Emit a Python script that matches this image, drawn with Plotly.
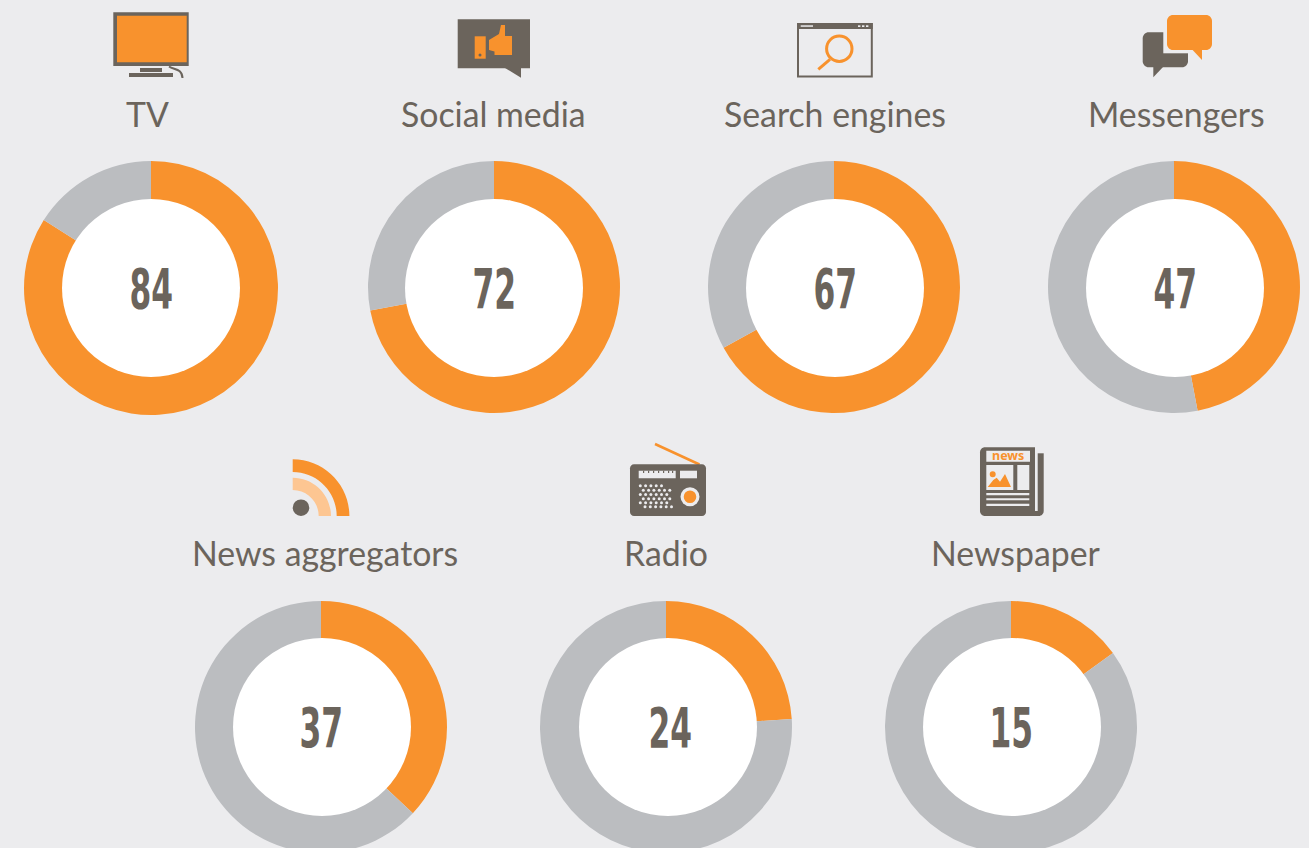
import plotly.graph_objects as go

# ---- data ----
categories = ["TV", "Social media", "Search engines", "Messengers",
              "News aggregators", "Radio", "Newspaper"]
share_values = [84, 72, 67, 47, 37, 24, 15]
rest_values = [16, 28, 33, 53, 63, 76, 85]

# ---- layout (pixels) ----
W, H = 1309, 860
center_x = [151, 494, 834, 1174, 321, 666, 1011]
center_y = [288, 287, 287, 287, 727, 727, 727]
radius = [127, 126, 126, 126, 126, 126, 126]
hole_x = [151, 494, 835, 1175, 322, 668, 1012]
hole_y = [288, 288, 288, 288, 727, 727, 727]
number_x = [151, 494, 835, 1175, 321, 671, 1011]
number_y = [288.5, 288.5, 288.5, 288.5, 727.5, 727.5, 727.5]
label_x = [147, 493.5, 834.5, 1176, 324.5, 666, 1016]
label_y = [113.5, 113.5, 113.5, 113.5, 552.5, 552.5, 552.5]
HOLE_R = 89

ORANGE = "#F8922D"
LIGHT_ORANGE = "#FDC692"
GREY = "#BBBDC0"
DARK = "#6B645C"
BG = "#ECECEE"
LABEL_FONT = "Lato"
NUM_FONT = "DejaVu Sans"


def px(x):
    return x / W


def py(y):
    return 1 - y / H


def path_str(parts):
    out = []
    for p in parts:
        if isinstance(p, str):
            out.append(p)
        else:
            out.append(f"{px(p[0]):.6f},{py(p[1]):.6f}")
    return " ".join(out)


shapes = []
annotations = []


def rect(x0, y0, x1, y1, color):
    shapes.append(dict(type="rect", xref="paper", yref="paper", x0=px(x0), x1=px(x1),
                       y0=py(y0), y1=py(y1), fillcolor=color, line_width=0, layer="above"))


def circle(cx, cy, r, color, layer="above", line=None, lw=0):
    shapes.append(dict(type="circle", xref="paper", yref="paper", x0=px(cx - r), x1=px(cx + r),
                       y0=py(cy + r), y1=py(cy - r), fillcolor=color,
                       line=dict(color=line or color, width=lw), layer=layer))


def poly(points, color):
    parts = ["M", points[0]]
    for p in points[1:]:
        parts += ["L", p]
    parts.append("Z")
    shapes.append(dict(type="path", xref="paper", yref="paper", path=path_str(parts),
                       fillcolor=color, line_width=0, layer="above"))


def stroke(parts, color, width):
    shapes.append(dict(type="path", xref="paper", yref="paper", path=path_str(parts),
                       line=dict(color=color, width=width), layer="above"))


def round_rect(x0, y0, x1, y1, r, color):
    k = r * 0.45
    parts = ["M", (x0 + r, y0), "L", (x1 - r, y0),
             "C", (x1 - k, y0), (x1, y0 + k), (x1, y0 + r),
             "L", (x1, y1 - r),
             "C", (x1, y1 - k), (x1 - k, y1), (x1 - r, y1),
             "L", (x0 + r, y1),
             "C", (x0 + k, y1), (x0, y1 - k), (x0, y1 - r),
             "L", (x0, y0 + r),
             "C", (x0, y0 + k), (x0 + k, y0), (x0 + r, y0), "Z"]
    shapes.append(dict(type="path", xref="paper", yref="paper", path=path_str(parts),
                       fillcolor=color, line_width=0, layer="above"))


def quarter_ring(cx, cy, r_out, r_in, color):
    k = 0.5523
    parts = ["M", (cx, cy - r_out),
             "C", (cx + k * r_out, cy - r_out), (cx + r_out, cy - k * r_out), (cx + r_out, cy),
             "L", (cx + r_in, cy),
             "C", (cx + r_in, cy - k * r_in), (cx + k * r_in, cy - r_in), (cx, cy - r_in), "Z"]
    shapes.append(dict(type="path", xref="paper", yref="paper", path=path_str(parts),
                       fillcolor=color, line_width=0, layer="above"))


# ---- donut holes sit on top of the rings ----
for hx, hy in zip(hole_x, hole_y):
    circle(hx, hy, HOLE_R, "#FFFFFF")

# ---- icons ----
# TV
rect(113.3, 12.3, 188.7, 66, DARK)
rect(117, 15.7, 186.7, 62.3, ORANGE)
rect(140, 68, 162, 72, DARK)
rect(129, 73, 173, 77, DARK)
stroke(["M", (169, 66.5), "C", (174, 70), (182, 68), (182.5, 78)], DARK, 2)

# Social media
rect(457.7, 19.3, 530, 68.3, DARK)
poly([(505, 68), (521, 77.7), (521, 68)], DARK)
rect(474.7, 36.3, 485.7, 58.7, ORANGE)
circle(480, 55, 1.5, DARK)
poly([(489, 40), (499, 34), (501, 25), (505, 25), (505, 36), (512, 36), (512, 55),
      (494.5, 55), (494.5, 51.5), (489, 50)], ORANGE)

# Search engines
shapes.append(dict(type="rect", xref="paper", yref="paper", x0=px(798), x1=px(871.8),
                   y0=py(76.5), y1=py(24), line=dict(color=DARK, width=2), layer="above"))
rect(797, 23, 872.7, 29, DARK)
rect(800.7, 25.3, 813, 26.8, BG)
for dot_x in (858, 862, 866):
    rect(dot_x, 25.3, dot_x + 2.4, 27, BG)
circle(839.3, 48.7, 12.7, "rgba(0,0,0,0)", line=ORANGE, lw=3)
stroke(["M", (818.3, 69.3), "L", (830, 59.3)], ORANGE, 3)

# Messengers
round_rect(1142.7, 32.3, 1188, 67.3, 6, DARK)
poly([(1153.3, 66), (1153.3, 77.3), (1164, 66)], DARK)
rect(1163.3, 30, 1192, 53.3, BG)
round_rect(1167, 15, 1212, 50, 6, ORANGE)
poly([(1191.7, 49), (1202, 60), (1202, 49)], ORANGE)

# News aggregators
quarter_ring(292.7, 516, 56.7, 44, ORANGE)
quarter_ring(292.7, 516, 38.3, 26, LIGHT_ORANGE)
circle(301, 507.7, 8.3, DARK)

# Radio
stroke(["M", (655, 444), "L", (699.5, 464.5)], ORANGE, 2.5)
round_rect(630, 464.3, 706, 516, 4, DARK)
rect(638.7, 470.7, 675.7, 478.3, BG)
for notch_x in (643, 648, 653, 658, 663, 668, 672):
    rect(notch_x, 470.7, notch_x + 1.2, 473, DARK)
rect(680, 470.7, 697, 478.3, BG)
dot_rows = [(485.7, 640.3, 5), (490.3, 643.3, 6), (494.5, 640.3, 6),
            (498.8, 643.3, 6), (502.8, 640.3, 6), (506.8, 645, 6)]
for row_y, row_x, count in dot_rows:
    for i in range(count):
        circle(row_x + i * 5.3, row_y, 1.5, BG)
circle(690, 496.7, 9.5, BG)
circle(690, 496.7, 6.3, ORANGE)

# Newspaper
round_rect(980, 447.3, 1043.7, 516, 5, DARK)
rect(1035, 447, 1044, 453.3, BG)
rect(1035, 447, 1037.7, 511, BG)
rect(986.3, 450.7, 1030, 461.7, BG)
rect(986.3, 465, 1013.3, 490, BG)
rect(1017.3, 465, 1029.3, 490, BG)
circle(992.7, 474.3, 3, ORANGE)
poly([(987.7, 487), (993.3, 480), (996.7, 477.7), (1000, 481.7), (1005, 474), (1011, 487)], ORANGE)
for y0, y1 in ((493, 495.3), (498.3, 500.3), (503.7, 506)):
    rect(986.3, y0, 1029.3, y1, BG)
annotations.append(dict(x=px(1008), y=py(456), xref="paper", yref="paper", text="<b>news</b>",
                        showarrow=False, xanchor="center", yanchor="middle",
                        font=dict(family="Noto Sans", size=12.5, color=ORANGE)))

# ---- donuts ----
fig = go.Figure()
for name, val, rest, cx, cy, r in zip(categories, share_values, rest_values,
                                      center_x, center_y, radius):
    fig.add_trace(go.Pie(
        values=[val, rest], labels=[name, "Other"], sort=False, direction="clockwise",
        rotation=0, hole=0.6, textinfo="none", showlegend=False,
        marker=dict(colors=[ORANGE, GREY], line=dict(width=0)),
        domain=dict(x=[px(cx - r), px(cx + r)], y=[py(cy + r), py(cy - r)]),
    ))

for name, val, nx, ny, lx, ly in zip(categories, share_values, number_x, number_y, label_x, label_y):
    annotations.append(dict(x=px(nx), y=py(ny), xref="paper", yref="paper", text=f"<b>{val}</b>",
                            showarrow=False, xanchor="center", yanchor="middle",
                            font=dict(family=NUM_FONT, size=55, color=DARK)))
    annotations.append(dict(x=px(lx), y=py(ly), xref="paper", yref="paper", text=name,
                            showarrow=False, xanchor="center", yanchor="middle",
                            font=dict(family=LABEL_FONT, size=33.8, color=DARK)))

fig.update_layout(width=W, height=H, margin=dict(l=0, r=0, t=0, b=0, pad=0),
                  paper_bgcolor=BG, plot_bgcolor=BG, showlegend=False,
                  shapes=shapes, annotations=annotations)

# The page is taller than the window (the lower rings run off its edge), and the
# centre numbers are set in a condensed cut, which no installed font offers.
post = """
document.documentElement.style.overflow='hidden';
document.body.style.overflow='hidden';
document.body.style.margin='0';
var squeeze=function(){
  document.querySelectorAll('.annotation-text').forEach(function(t){
    if(/^\\d\\d$/.test(t.textContent.trim())){
      var b=t.getBBox(), c=b.x+b.width/2;
      t.setAttribute('transform','translate('+c+',0) scale(0.57,1) translate('+(-c)+',0)');
    }
  });
};
squeeze();
"""
fig.write_html("out.html", config=dict(displayModeBar=False, responsive=False), post_script=post)
